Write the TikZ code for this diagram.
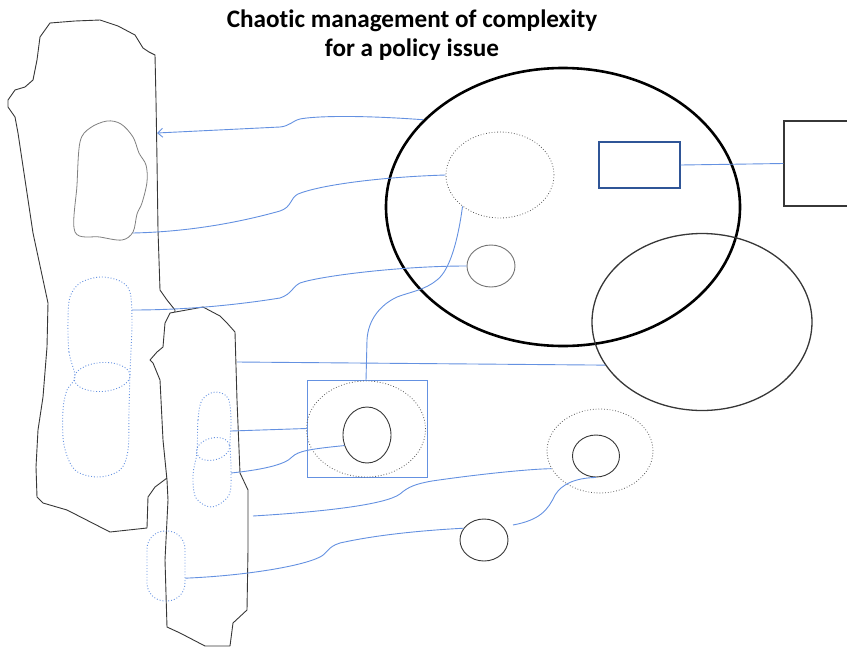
\documentclass[tikz,border=0pt]{standalone}
\usepackage{fontspec}
\setmainfont{Carlito}[Ligatures=NoCommon]
\usetikzlibrary{shapes.geometric,arrows.meta}
\definecolor{linkblue}{RGB}{100,145,225}
\definecolor{frame}{RGB}{55,55,55}
\definecolor{navy}{RGB}{47,85,151}
\definecolor{dotgrey}{RGB}{90,90,90}
\begin{document}
\begin{tikzpicture}[x=1pt,y=-1pt,
  outline/.style={draw=frame,line width=0.9pt,line join=round},
  link/.style={draw=linkblue,line width=0.9pt},
  dotline/.style={draw=dotgrey,dotted,line width=0.8pt},
  dotblue/.style={draw=linkblue,dotted,line width=0.9pt},
  ell/.style={ellipse,inner sep=0pt},
  solidring/.style={ell,draw=frame,line width=0.9pt},
  blob/.style={rectangle,inner sep=0pt,dotblue}]
\useasboundingbox (0,0) rectangle (847,646);

% title
\node[font=\bfseries\fontsize{25.2}{29}\selectfont,align=center] (title) at (412,35.5)
  {Chaotic management of complexity\\for a policy issue};

% left torn sheet
\draw[outline,fill=white] (50,23) -- (75,21) -- (100,20) -- (118,26) -- (135,35) -- (143,48)
  -- (149,52) -- (155,55) -- (156,100) -- (157,160) -- (158,230) -- (160,290) -- (167,300)
  -- (175,310) -- (170,400) -- (167,478) -- (155,487) -- (148,497) -- (147,528) -- (110,532)
  -- (67,510) -- (43,503) -- (37,497) -- (36,467) -- (38,430) -- (43,397) -- (47,347)
  -- (48,303) -- (33,233) -- (18,133) -- (15,117) -- (8,107) -- (8,100) -- (15,90)
  -- (25,87) -- (33,80) -- (37,60) -- (40,37) -- cycle;
\coordinate (ls-a) at (157,133);

% grey patch on the left sheet
\draw[draw=gray,line width=0.8pt] plot[smooth cycle,tension=0.55] coordinates {
  (75,232) (77,185) (80,142) (90,128) (107,121) (121,124) (133,137) (139,153) (146,165)
  (147,182) (142,203) (137,214) (133,232) (122,240) (100,237)};
\coordinate (gs-a) at (133,233);

% dotted patches on the left sheet
\draw[dotblue] plot[smooth cycle,tension=0.55] coordinates {
  (75,377) (69,352) (68,320) (70,297) (80,283) (100,277) (120,281) (130,292) (132,320)
  (131,350) (130,373) (129,410) (128,450) (120,470) (98,477) (75,470) (64,445) (63,410) (67,390)};
\node[ell,dotblue,rotate=4,minimum width=56pt,minimum height=29pt] (lb2) at (102,377) {};
\coordinate (lb1-a) at (132,310);

% middle torn sheet
\draw[outline,fill=white] (170,313) -- (203,307) -- (220,316) -- (227,323) -- (235,332)
  -- (237,400) -- (240,473) -- (248,490) -- (248,550) -- (247,610) -- (233,623) -- (230,646)
  -- (205,646) -- (180,633) -- (167,627) -- (165,560) -- (168,500) -- (167,480) -- (163,440)
  -- (160,380) -- (153,363) -- (150,360) -- (157,352) -- (163,347) -- (165,323) -- cycle;
\coordinate (ms-a) at (237,362);
\coordinate (ms-b) at (253,516);

% dotted patches on the middle sheet
\draw[dotblue] plot[smooth cycle,tension=0.55] coordinates {
  (197,452) (198,420) (202,400) (215,392) (228,398) (231,420) (230,443) (231,470)
  (229,495) (212,507) (196,498) (193,475)};
\node[ell,dotblue,rotate=15,minimum width=34pt,minimum height=22pt] (mb2) at (213,449) {};
\coordinate (mb1-a) at (231,431);
\coordinate (mb3-a) at (231,473);
\node[blob,rounded corners=18pt,minimum width=38pt,minimum height=70pt] (mb4) at (166,566) {};

% ellipses on the right
\node[ell,draw=black,line width=2.6pt,minimum width=354pt,minimum height=278pt] (big) at (563,207) {};
\node[ell,draw=frame,line width=1.3pt,minimum width=220pt,minimum height=177pt] (big2) at (702,322) {};
\node[ell,dotline,minimum width=108pt,minimum height=86pt] (d1) at (500,175) {};
\node[solidring,draw=gray!90!black,minimum width=48pt,minimum height=42pt] (c1) at (491,266) {};
\node[draw=navy,line width=1.2pt,inner sep=0pt,minimum width=81pt,minimum height=46pt] (r1) at (639.5,165) {};
\node[draw=frame,line width=1.2pt,inner sep=0pt,minimum width=80pt,minimum height=85pt] (rb) at (824,163.5) {};

% boxed group
\node[draw=linkblue,line width=0.9pt,inner sep=0pt,minimum width=120pt,minimum height=97pt] (b1) at (367,428.5) {};
\node[ell,dotline,minimum width=119pt,minimum height=96pt] (d2) at (366,429) {};
\node[solidring,minimum width=48pt,minimum height=56pt] (c2) at (367,435) {};

% lower right group
\node[ell,dotline,minimum width=106pt,minimum height=84pt] (d3) at (600,451) {};
\node[solidring,minimum width=47pt,minimum height=42pt] (c3) at (596,456) {};
\node[solidring,minimum width=48pt,minimum height=42pt] (c4) at (484,540) {};
\coordinate (c4-gap) at (513,525);

% connectors
\draw[link,-{Straight Barb[length=5pt,width=9pt]}] (big.148) .. controls (360,115) and (315,116) .. (300,119)
  .. controls (292,121) and (290,126) .. (280,127) -- (ls-a);
\draw[link] (d1.west) .. controls (380,177) and (320,185) .. (298,194)
  .. controls (290,198) and (292,207) .. (280,211) .. controls (230,225) and (180,232) .. (gs-a);
\draw[link] (c1.west) .. controls (400,266) and (320,276) .. (300,283)
  .. controls (292,287) and (292,294) .. (280,298) .. controls (230,306) and (180,310) .. (lb1-a);
\draw[link] (d1.220) .. controls (458,240) and (450,270) .. (437,280)
  .. controls (425,290) and (410,292) .. (397,297) .. controls (380,305) and (368,320) .. (367,340)
  -- (d2.north);
\draw[link] (ms-a) -- (big2.204);
\draw[link] (mb1-a) -- (b1.west);
\draw[link] (mb3-a) .. controls (260,470) and (285,465) .. (292,457)
  .. controls (298,451) and (310,449) .. (c2.205);
\draw[link] (ms-b) .. controls (320,512) and (385,505) .. (400,494)
  .. controls (408,487) and (415,484) .. (432,481) .. controls (480,474) and (530,469) .. (d3.200);
\draw[link] (mb4.-32) .. controls (240,576) and (300,567) .. (320,557)
  .. controls (328,553) and (327,547) .. (340,543) .. controls (380,534) and (430,530) .. (c4.150);
\draw[link] (c4-gap) .. controls (540,520) and (548,510) .. (555,495)
  .. controls (562,484) and (575,478) .. (c3.south);
\draw[link] (r1.east) -- (rb.west);
\end{tikzpicture}
\end{document}
